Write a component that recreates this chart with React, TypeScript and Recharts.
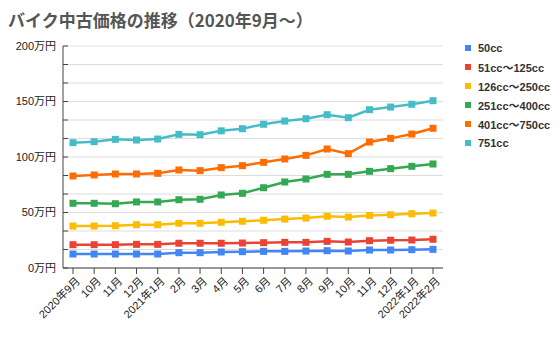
import React from "react";
import { LineChart, Line, XAxis, YAxis, CartesianGrid } from "recharts";

const MONTHS = [
  "2020年9月", "10月", "11月", "12月", "2021年1月", "2月", "3月", "4月", "5月",
  "6月", "7月", "8月", "9月", "10月", "11月", "12月", "2022年1月", "2022年2月",
];

// 万円
const CC50 = [12.6, 12.6, 12.6, 12.6, 12.6, 13.8, 13.8, 14.4, 14.7, 15.0, 15.0, 15.3, 15.6, 15.3, 16.2, 16.2, 16.5, 16.8];
const CC125 = [21, 21, 21, 21.3, 21.3, 22.3, 22.3, 22.3, 22.5, 22.8, 23.1, 23.1, 24.0, 23.4, 24.6, 25.0, 25.2, 25.9];
const CC250 = [37.8, 37.8, 38.1, 39.0, 39.0, 40.3, 40.3, 41.2, 42.1, 43.0, 44.1, 45.0, 46.6, 45.9, 47.4, 48.0, 48.9, 49.5];
const CC400 = [58.3, 58.3, 57.9, 59.5, 59.5, 61.5, 61.9, 65.8, 67.3, 72.3, 77.5, 80.2, 84.4, 84.4, 87.1, 89.5, 91.6, 93.7];
const CC750 = [82.9, 83.8, 84.7, 84.7, 85.3, 88.3, 87.7, 90.4, 92.2, 95.2, 98.2, 101.5, 107.2, 103.0, 113.5, 116.8, 120.7, 125.9];
const CC751 = [112.9, 113.8, 115.9, 115.3, 116.2, 120.4, 120.1, 123.6, 125.5, 129.5, 132.4, 134.5, 138.1, 135.4, 142.6, 145.0, 147.5, 150.7];

const Y_TICKS = [0, 16.67, 33.33, 50, 66.67, 83.33, 100, 116.67, 133.33, 150, 166.67, 183.33, 200];

const SERIES = [
  { key: "cc50", name: "50cc", color: "#4285F4", values: CC50 },
  { key: "cc125", name: "51cc～125cc", color: "#EA4335", values: CC125 },
  { key: "cc250", name: "126cc～250cc", color: "#FBBC04", values: CC250 },
  { key: "cc400", name: "251cc～400cc", color: "#34A853", values: CC400 },
  { key: "cc750", name: "401cc～750cc", color: "#FF6D01", values: CC750 },
  { key: "cc751", name: "751cc", color: "#46BDC6", values: CC751 },
];

const data = MONTHS.map((m, i) => {
  const row: Record<string, string | number> = { month: m };
  SERIES.forEach((s) => (row[s.key] = s.values[i]));
  return row;
});

const FONT = "'Liberation Sans', Arial, 'Noto Sans CJK JP', sans-serif";

const YTick = (props: any) => {
  const { x, y, payload } = props;
  const v = payload.value;
  const major = Math.abs(v % 50) < 0.01;
  return (
    <g>
      <line x1={x} x2={x + 5} y1={y} y2={y} stroke="#444" />
      {major && (
        <text x={x - 7} y={y} dy="0.35em" textAnchor="end" fontSize={11} fill="#222" fontFamily={FONT}>
          {`${Math.round(v)}万円`}
        </text>
      )}
    </g>
  );
};

const XTick = (props: any) => {
  const { x, y, payload } = props;
  return (
    <g>
      <line x1={x} x2={x} y1={y} y2={y + 6} stroke="#444" />
      <g transform={`translate(${x + 5},${y + 11}) rotate(-45)`}>
        <text textAnchor="end" dy="0.35em" fontSize={11} fill="#222" fontFamily={FONT}>
          {payload.value}
        </text>
      </g>
    </g>
  );
};

const Marker = (props: any) => {
  const { cx, cy, stroke } = props;
  if (cx == null || cy == null) return null;
  return <rect x={cx - 3.5} y={cy - 3.5} width={7} height={7} fill={stroke} />;
};

export default function App() {
  return (
    <div style={{ position: "absolute", left: 0, top: 0, width: 560, height: 340, background: "#fff", fontFamily: FONT }}>
      <div
        style={{
          position: "absolute",
          left: 8,
          top: 7,
          fontSize: 17,
          fontWeight: "bold",
          color: "#555",
          fontFamily: "'Noto Sans CJK JP', sans-serif",
          whiteSpace: "nowrap",
        }}
      >
        バイク中古価格の推移（2020年9月～）
      </div>
      <LineChart width={560} height={340} data={data} margin={{ top: 46, right: 117, bottom: 0, left: 0 }}>
        <CartesianGrid vertical={false} stroke="#ddd" />
        <XAxis
          dataKey="month"
          height={72}
          padding={{ left: 10, right: 10 }}
          interval={0}
          tickSize={0}
          tickMargin={0}
          tickLine={false}
          axisLine={{ stroke: "#444" }}
          tick={<XTick />}
        />
        <YAxis
          width={63}
          domain={[0, 200]}
          ticks={Y_TICKS}
          interval={0}
          tickSize={0}
          tickMargin={0}
          tickLine={false}
          axisLine={{ stroke: "#444" }}
          tick={<YTick />}
        />
        {SERIES.map((s) => (
          <Line
            key={s.key}
            dataKey={s.key}
            name={s.name}
            stroke={s.color}
            strokeWidth={2.5}
            dot={<Marker />}
            activeDot={false}
            isAnimationActive={false}
          />
        ))}
      </LineChart>
      <div style={{ position: "absolute", left: 465, top: 38 }}>
        {SERIES.map((s) => (
          <div key={s.key} style={{ display: "flex", alignItems: "center", height: 19 }}>
            <span style={{ width: 6, height: 6, background: s.color, marginRight: 7, display: "inline-block" }} />
            <span style={{ fontSize: 11, fontWeight: "bold", color: "#333", whiteSpace: "nowrap" }}>{s.name}</span>
          </div>
        ))}
      </div>
    </div>
  );
}
